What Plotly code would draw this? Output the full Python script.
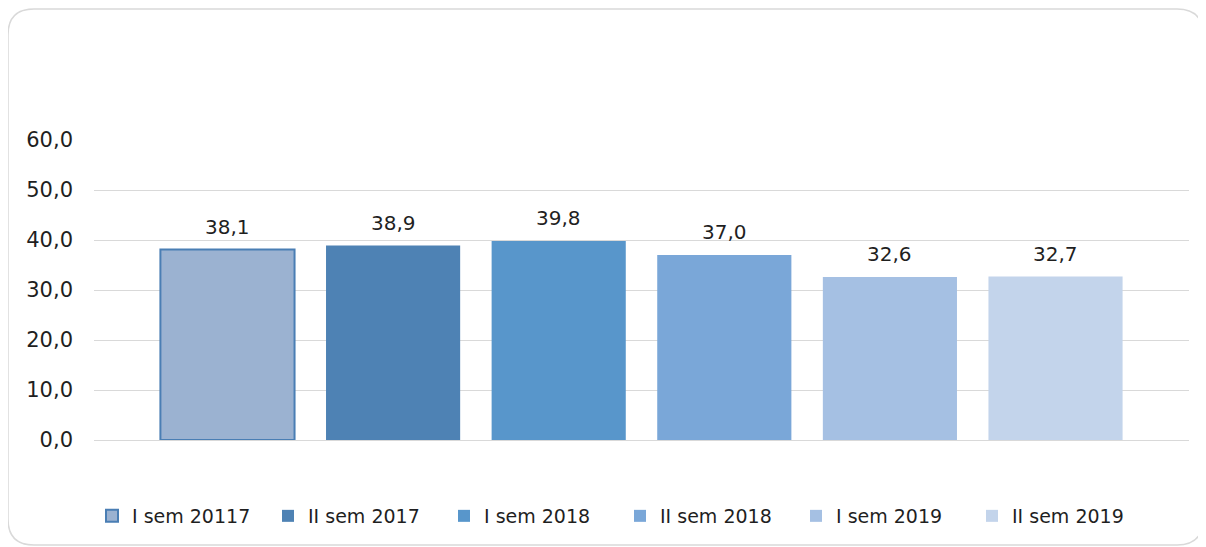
import plotly.graph_objects as go

series = ["I sem 20117", "II sem 2017", "I sem 2018", "II sem 2018", "I sem 2019", "II sem 2019"]
values = [38.1, 38.9, 39.8, 37.0, 32.6, 32.7]
colors = ["#9bb2d1", "#4e82b4", "#5896cb", "#7aa7d8", "#a5c0e3", "#c3d4eb"]
line_colors = ["#4a7eb4", None, None, None, None, None]
y_ticks = [0, 10, 20, 30, 40, 50, 60]

FONT = "DejaVu Sans"
TXT = "#1f1f1f"
OFF = 8  # page body margin
fig = go.Figure()
for i, (name, v, c, lc) in enumerate(zip(series, values, colors, line_colors)):
    fig.add_trace(go.Bar(
        x=[i], y=[v], name=name, width=0.81,
        marker=dict(color=c, line=dict(color=lc if lc else c, width=2 if lc else 0)),
        cliponaxis=False,
    ))
    fig.add_annotation(x=i, y=v, text=f"{v:.1f}".replace(".", ","), showarrow=False,
                       yanchor="bottom", yshift=9,
                       font=dict(size=20, color=TXT, family=FONT))

W, H = 1206 - OFF, 547 - OFF
L, R, T, B = 94 - OFF, 1206 - 1189, 140 - OFF, 547 - 440
pw, ph = W - L - R, H - T - B

def px(x):
    return (x - OFF - L) / pw

def py(y):
    return (H - B - (y - OFF)) / ph

x0, x1, y0, y1 = 8, 1203, 9, 545
r = 26
path = (
    f"M {px(x0)},{py(y0 + r)} "
    f"Q {px(x0)},{py(y0)} {px(x0 + r)},{py(y0)} "
    f"L {px(x1 - r)},{py(y0)} "
    f"Q {px(x1)},{py(y0)} {px(x1)},{py(y0 + r)} "
    f"L {px(x1)},{py(y1 - r)} "
    f"Q {px(x1)},{py(y1)} {px(x1 - r)},{py(y1)} "
    f"L {px(x0 + r)},{py(y1)} "
    f"Q {px(x0)},{py(y1)} {px(x0)},{py(y1 - r)} Z"
)

fig.update_layout(
    width=W, height=H,
    margin=dict(l=L, r=R, t=T, b=B),
    paper_bgcolor="white", plot_bgcolor="white",
    barmode="overlay",
    separators=",.",
    showlegend=True,
    legend=dict(orientation="h", x=px(92), xanchor="left", y=py(516), yanchor="middle",
                font=dict(size=19, color=TXT, family=FONT),
                itemwidth=30, traceorder="normal",
                entrywidth=131, entrywidthmode="pixels"),
    xaxis=dict(range=[-0.806, 5.806], showticklabels=False, showgrid=False,
               zeroline=False, showline=False, ticks=""),
    yaxis=dict(range=[0, 60], tickvals=y_ticks, tickformat=".1f",
               gridcolor="#d9d9d9", gridwidth=1, zeroline=True, zerolinecolor="#d9d9d9",
               zerolinewidth=1, showline=False, ticks="", ticklen=0,
               ticklabelstandoff=20,
               tickfont=dict(size=21, color=TXT, family=FONT)),
    shapes=[dict(type="path", xref="paper", yref="paper", path=path,
                 line=dict(color="#d9d9d9", width=1.5), fillcolor="rgba(0,0,0,0)",
                 layer="below")],
)

fig.write_html("out.html")
